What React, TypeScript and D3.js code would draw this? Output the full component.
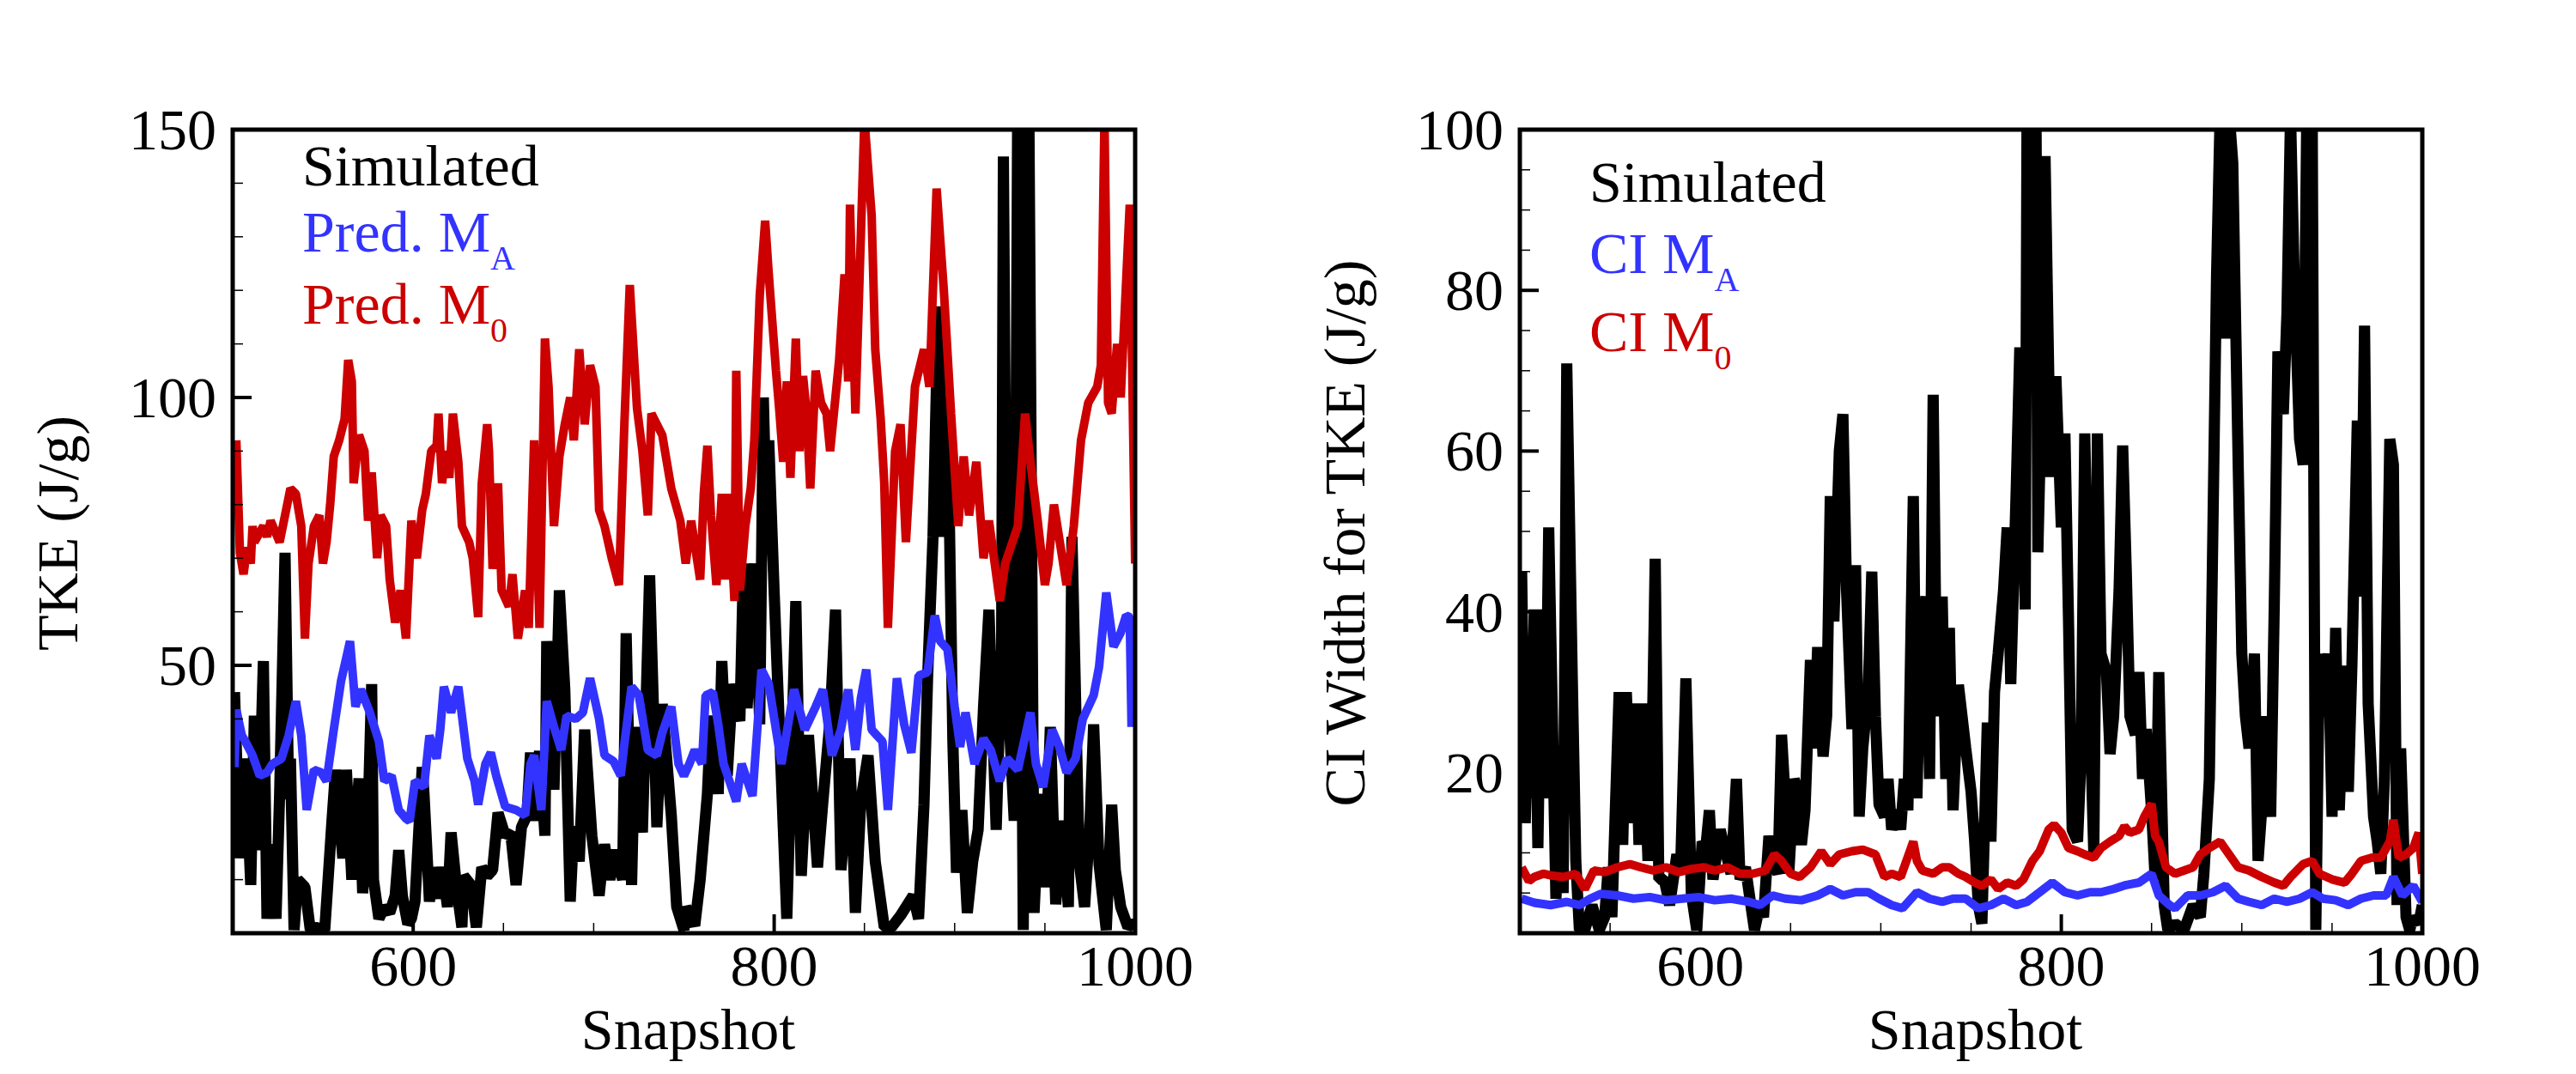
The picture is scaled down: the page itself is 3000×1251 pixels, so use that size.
import React from 'react';
import * as d3 from 'd3';

const W = 3000;
const H = 1251;
const RED = '#cc0000';
const BLUE = '#3333ff';
const FONT = '"Liberation Serif", "Times New Roman", Times, serif';

// x axis (both panels)
const snapshotDomain: [number, number] = [500, 1000];
const snapshotTicks = [600, 800, 1000];
const snapshotMinorStep = 50;

// left panel axis
const tkeTicks = [50, 100, 150];
// right panel axis
const ciTicks = [20, 40, 60, 80, 100];

// ---- left panel: TKE (J/g) ----
const simulatedTke: [number, number][] = [
  [501, 45], [504, 14], [507, 32.6], [510, 9], [512, 40.6], [514, 15.5], [517, 50.8], [519, 2.7], [521, 16.6],
  [524, 2.7], [526, 26], [529, 71], [531, 25], [532, 32.6], [534, 0.6], [536, 10], [540, 8.6], [543, 0.6],
  [546, 1.1], [551, 0.6], [555, 21], [557, 30.5], [561, 14], [563, 30.5], [566, 10], [570, 28.9], [572, 7.5],
  [575, 22], [577, 46.5], [578, 10], [581, 2.7], [584, 4.9], [587, 3.8], [590, 7], [592, 15.5], [594, 7],
  [597, 1.7], [599, 2.7], [601, 5.9], [605, 31], [606, 26], [609, 5.9], [611, 12.3], [613, 6.5], [616, 12.3],
  [619, 4.9], [621, 18.8], [624, 8.6], [627, 1.1], [628, 10.7], [632, 9], [635, 1.1], [638, 12.3], [641, 10.7],
  [644, 11.8], [647, 22.5], [651, 18.2], [654, 18.8], [657, 9], [660, 19.8], [663, 22], [665, 33.7], [667, 21],
  [670, 34], [673, 18.2], [674, 54.5], [678, 26.8], [681, 64], [684, 45.5], [687, 5.9], [689, 20], [692, 13.4],
  [695, 38], [699, 18.2], [703, 7], [706, 16.6], [709, 10], [712, 15.5], [716, 10], [718, 56], [721, 9],
  [723, 38.5], [727, 18.8], [731, 66.8], [735, 19.8], [738, 42.8], [743, 22], [746, 4.9], [750, 0.6],
  [751, 4.9], [756, 1.4], [759, 10], [763, 26], [765, 40.6], [769, 26], [771, 50.8], [774, 29.4], [777, 46.5],
  [781, 39.6], [783, 69], [785, 42], [789, 69], [792, 39], [794, 100], [796, 73], [797, 92], [800, 63.6],
  [807, 2.7], [812, 62], [815, 10.7], [819, 37], [824, 12.3], [827, 24.6], [831, 40], [834, 60.4], [837, 11.8],
  [842, 32.6], [845, 3.8], [848, 24.6], [852, 33.2], [856, 13.4], [861, 1.1], [865, 1.1], [870, 3.3], [873, 4.9],
  [877, 7], [880, 2.7], [883, 24], [885, 47.6], [888, 74], [890, 104], [891, 117], [894, 74], [896, 100],
  [899, 35.8], [901, 11.3], [904, 23], [907, 3.8], [910, 13.4], [913, 19.3], [916, 42.3], [919, 60.4], [923, 19.3],
  [926, 53], [927, 145], [929, 47.6], [933, 21], [935, 160], [938, 0.6], [941, 160], [944, 3.8], [947, 26],
  [950, 8.6], [953, 38.5], [956, 5.4], [959, 21], [963, 4.9], [965, 74], [969, 13.4], [972, 4.9], [975, 21],
  [977, 39], [980, 12.9], [984, 0.6], [987, 24], [989, 11.8], [992, 4.9], [996, 1.1], [998, 1.7], [1000, 1.7],
];

const predMA: [number, number][] = [
  [501, 31], [502, 41.7], [505, 37], [507, 35.8], [511, 33.2], [515, 29.4], [519, 30], [522, 31.6], [527, 32.6],
  [531, 36.9], [535, 43.3], [538, 36.9], [541, 23], [545, 30.5], [549, 30], [552, 28.4], [556, 38], [560, 47],
  [565, 54.5], [568, 42.3], [571, 45.5], [576, 41.2], [581, 35.8], [584, 28.4], [588, 29.4], [592, 23], [596, 21.4],
  [598, 20.9], [601, 28.4], [606, 27.3], [609, 36.9], [613, 32.6], [615, 38], [617, 46], [621, 41.2], [625, 46],
  [630, 32.6], [634, 28.4], [636, 24], [640, 31.6], [643, 33.7], [646, 29.4], [651, 23.6], [657, 23], [662, 22],
  [665, 31.6], [667, 33.2], [671, 23], [674, 43.3], [678, 38.5], [682, 34.2], [685, 40.6], [690, 40], [694, 41.2],
  [698, 47.6], [703, 40], [706, 33.2], [711, 32.1], [715, 29.4], [717, 35.3], [721, 46], [725, 44.4], [730, 34.2],
  [735, 33.2], [738, 37.4], [743, 42.3], [747, 31.6], [750, 29.4], [753, 31.6], [756, 34.2], [760, 31.6],
  [762, 44.4], [766, 45], [769, 39], [772, 31.6], [779, 24.6], [782, 31.6], [788, 25.6], [793, 49.2], [797, 46.5],
  [804, 31.6], [811, 45.5], [817, 38], [823, 42.3], [827, 45.5], [832, 33.2], [837, 38], [841, 45.5], [845, 34.2],
  [848, 43.8], [851, 49.2], [854, 38], [860, 35.8], [863, 23], [868, 47.6], [872, 39], [876, 33.7], [880, 48.1],
  [885, 48.7], [889, 59.3], [892, 54.5], [896, 53], [900, 42.3], [903, 34.8], [906, 41.2], [911, 31.6], [916, 36.3],
  [920, 34.2], [925, 28.4], [929, 32.6], [935, 30.5], [942, 41.2], [945, 31.6], [949, 27.3], [954, 38], [958, 34.8],
  [962, 30], [967, 32.6], [971, 40], [977, 44.4], [980, 49.7], [984, 63.6], [988, 53.5], [992, 56.1], [995, 59.3],
  [997, 59], [998, 38.5],
];

const predM0: [number, number][] = [
  [502, 92], [504, 71], [506, 67], [508, 72], [510, 69], [511, 76], [512, 73], [517, 76], [519, 74], [521, 77],
  [526, 73], [529, 78], [532, 83], [535, 82], [538, 76], [540, 55], [542, 69], [545, 76], [548, 78], [550, 69],
  [552, 73], [554, 80], [556, 89], [559, 92], [562, 96], [564, 107], [566, 103], [567, 84], [570, 93], [573, 90],
  [575, 77], [577, 86], [580, 70], [582, 78], [585, 76], [587, 66], [590, 58], [593, 64], [596, 55], [599, 77],
  [602, 70], [605, 79], [607, 82], [610, 90], [613, 91], [614, 97], [616, 84], [618, 90], [620, 85], [622, 97],
  [625, 88], [627, 76], [631, 73], [633, 70], [636, 59], [638, 84], [641, 95], [642, 90], [644, 68], [647, 84],
  [649, 64], [653, 61], [655, 67], [658, 55], [662, 64], [664, 57], [667, 92], [670, 57], [673, 111], [675, 102],
  [678, 76], [681, 89], [684, 95], [687, 100], [689, 92], [692, 109], [695, 95], [698, 106], [701, 102], [703, 79],
  [706, 76], [710, 70], [714, 65], [717, 95], [720, 121], [724, 98], [727, 90], [730, 78], [732, 97], [738, 93],
  [743, 83], [748, 77], [751, 69], [754, 77], [759, 66], [761, 82], [763, 91], [765, 78], [768, 65], [771, 82],
  [773, 66], [775, 82], [778, 62], [779, 105], [781, 64], [784, 76], [787, 83], [789, 92], [792, 119], [795, 133],
  [797, 123], [801, 105], [803, 97], [805, 88], [807, 103], [809, 85], [812, 111], [814, 90], [816, 104], [818, 97],
  [820, 83], [823, 105], [826, 99], [829, 97], [831, 90], [836, 107], [839, 123], [841, 103], [842, 136], [845, 97],
  [850, 152], [854, 134], [856, 109], [859, 96], [861, 84], [863, 57], [867, 90], [870, 95], [873, 73], [878, 102],
  [883, 109], [886, 102], [890, 139], [894, 120], [898, 97], [902, 76], [905, 89], [908, 78], [912, 88], [916, 70],
  [919, 77], [925, 62], [928, 69], [935, 76], [939, 97], [942, 88], [946, 77], [950, 65], [952, 69], [955, 80],
  [962, 65], [966, 76], [970, 92], [974, 99], [979, 102], [981, 106], [983, 152], [985, 99], [987, 97], [990, 110],
  [992, 100], [997, 136], [1000, 69],
];

// ---- right panel: CI width for TKE (J/g) ----
const simulatedCi: [number, number][] = [
  [501, 45], [503, 13.7], [505, 32.5], [506, 16.8], [508, 40.3], [510, 10.6], [512, 40.3], [514, 16.8], [516, 50.5],
  [520, 4.3], [522, 12.9], [524, 5], [526, 70.9], [529, 32.5], [531, 9], [533, 0.4], [536, 0.4], [540, 3.5],
  [544, 0.4], [547, 2], [549, 8.2], [551, 2], [555, 30], [557, 11], [559, 30], [562, 13.7], [564, 28.6], [566, 11],
  [568, 28.6], [571, 9], [573, 19.2], [575, 46.6], [577, 6.7], [580, 6.7], [583, 3.5], [587, 9.8], [589, 7.4],
  [592, 31.7], [595, 5], [598, 0.4], [601, 11.4], [603, 10.6], [605, 15.3], [607, 6.7], [611, 12.9], [613, 11],
  [617, 7.4], [620, 19.2], [622, 6.7], [625, 8.2], [628, 3.5], [630, 0.4], [633, 3.5], [635, 2], [638, 12.1],
  [640, 9], [643, 7.4], [645, 24.7], [647, 16.8], [649, 7.4], [652, 19.2], [654, 17.6], [656, 11], [658, 15.3],
  [661, 34], [663, 23], [665, 35.6], [668, 22], [670, 27], [672, 54.4], [674, 38.8], [677, 60], [679, 64.6],
  [681, 42.7], [684, 25.4], [686, 45.8], [688, 14.5], [690, 23], [693, 30], [695, 45], [697, 27], [699, 16],
  [702, 14.5], [704, 19.2], [706, 12.9], [709, 15.3], [711, 12.9], [713, 19.2], [715, 15.3], [718, 54.4], [720, 16.8],
  [722, 36.4], [725, 41.9], [727, 19.2], [729, 67], [731, 27], [734, 41.9], [736, 19.2], [738, 38], [740, 15.3],
  [743, 30.9], [745, 27], [747, 23.1], [750, 17.6], [752, 11.4], [754, 3.5], [756, 1.2], [759, 26.2], [761, 11.4],
  [763, 30], [765, 34.8], [768, 42.7], [770, 50.5], [772, 31], [775, 55.2], [777, 72.9], [778, 67.7], [780, 40.3],
  [781, 102], [784, 72.4], [786, 102], [787, 47.4], [789, 67], [791, 96.7], [794, 56.8], [797, 69.3], [800, 50.5],
  [802, 62.2], [804, 38.8], [806, 12.9], [809, 11.4], [811, 22.3], [813, 62.2], [816, 26.2], [818, 9.8], [820, 62.2],
  [822, 34.8], [825, 32.5], [827, 22.3], [829, 27], [832, 42.7], [834, 60.7], [836, 45], [838, 27], [841, 24.7],
  [843, 32.5], [845, 19.2], [847, 25.4], [850, 15.3], [852, 6.7], [854, 32.5], [857, 3.5], [859, 0.4], [863, 1.2],
  [868, 0.4], [873, 3.5], [877, 2], [879, 7.4], [882, 19.2], [884, 50.5], [886, 81.8], [888, 102], [891, 74],
  [893, 102], [895, 95.9], [898, 58.3], [900, 34.8], [902, 27], [904, 23], [907, 34.8], [909, 9], [911, 15.3],
  [913, 27], [916, 14.5], [918, 41], [920, 72.4], [923, 64.6], [925, 77.1], [927, 102], [929, 81.8], [932, 61.5],
  [934, 58.3], [936, 102], [939, 102], [941, 0.4], [943, 34.8], [945, 27], [948, 34.8], [950, 14.5], [952, 38],
  [954, 15.3], [957, 33.3], [959, 17.6], [961, 33.3], [964, 63.8], [966, 41.9], [968, 75.6], [970, 28.6], [973, 14.5],
  [975, 11.4], [977, 7.4], [979, 19.2], [982, 61.5], [984, 58.3], [986, 3.5], [988, 23], [991, 2], [993, 0.4],
  [995, 2], [998, 1.2], [1000, 3.5],
];

const ciMA: [number, number][] = [
  [501, 4.3], [508, 3.8], [517, 3.5], [526, 3.9], [533, 3.5], [539, 4.3], [545, 4.9], [554, 4.7], [563, 4.3],
  [572, 4.5], [581, 4.1], [590, 4.3], [599, 4.5], [608, 4.1], [617, 4.3], [627, 3.9], [633, 3.5], [640, 4.7],
  [647, 4.3], [656, 4.1], [665, 4.7], [672, 5.5], [679, 4.7], [686, 5.1], [693, 5.1], [699, 4.3], [706, 3.5],
  [712, 3.1], [720, 5.1], [727, 4.3], [734, 3.9], [740, 4.3], [747, 4.3], [754, 3.1], [761, 3.5], [768, 4.3],
  [775, 3.5], [781, 3.9], [788, 5.1], [795, 6.3], [802, 5.1], [809, 4.7], [816, 5.1], [822, 5.1], [829, 5.5],
  [836, 6], [843, 6.3], [850, 7.4], [854, 4.7], [860, 3.5], [863, 3.1], [870, 4.7], [877, 4.7], [884, 5.1],
  [891, 5.9], [898, 4.3], [904, 3.9], [911, 3.5], [918, 4.3], [925, 3.9], [932, 4.3], [939, 5.1], [945, 4.3],
  [952, 4.1], [959, 3.5], [966, 4.3], [973, 4.7], [980, 4.7], [984, 7], [989, 4.7], [995, 5.9], [1000, 3.9],
];

const ciM0: [number, number][] = [
  [501, 8.2], [505, 6.5], [508, 7], [513, 7.4], [517, 7.2], [524, 7], [531, 7.4], [536, 5.5], [541, 7.8], [547, 7.6],
  [554, 8.2], [561, 8.6], [567, 8.2], [574, 7.8], [581, 8.2], [588, 7.6], [595, 8], [602, 8.2], [608, 7.8],
  [615, 8.2], [622, 7.4], [629, 7.4], [636, 7.8], [641, 9.8], [645, 9], [650, 7.4], [655, 7], [661, 8.2],
  [667, 10.2], [672, 8.6], [677, 9.8], [684, 10.2], [690, 10.4], [697, 9.8], [702, 7], [706, 7.4], [711, 7],
  [718, 11.4], [720, 9], [723, 7.8], [729, 7.4], [734, 8.2], [738, 8.2], [743, 7.4], [747, 7], [752, 6.3],
  [756, 5.9], [761, 6.7], [765, 5.5], [770, 6.3], [775, 5.9], [779, 6.7], [784, 9], [788, 10.2], [793, 12.9],
  [796, 13.5], [800, 12.5], [804, 10.6], [809, 10.2], [813, 9.8], [818, 9.4], [822, 10.6], [827, 11.4], [832, 12.1],
  [835, 13.3], [838, 12.5], [843, 12.9], [846, 14.5], [850, 16.1], [852, 12.1], [854, 11.4], [858, 8.2], [863, 7.4],
  [868, 7.8], [873, 8.2], [877, 9.8], [882, 10.6], [888, 11.4], [893, 9.8], [898, 8.2], [904, 7.8], [911, 7],
  [918, 6.3], [923, 5.9], [927, 7], [934, 8.6], [939, 9], [943, 7.4], [950, 6.7], [957, 6.3], [961, 7.4], [966, 9],
  [972, 9.4], [977, 9.4], [982, 11.4], [984, 14.1], [987, 9.4], [991, 9.8], [995, 10.6], [998, 12.5], [1000, 7.4],
];

interface Series {
  data: [number, number][];
  color: string;
  width: number;
}

interface LegendItem {
  text: string;
  sub?: string;
  color: string;
  baseline: number;
}

interface PanelProps {
  id: string;
  left: number;
  yMax: number;
  yTicks: number[];
  yMinorStep: number;
  yTitle: string;
  series: Series[];
  legend: LegendItem[];
}

const PLOT_W = 1051;
const TOP = 151;
const BOTTOM = 1087;

function Panel({id, left, yMax, yTicks, yMinorStep, yTitle, series, legend}: PanelProps) {
  const x = d3.scaleLinear().domain(snapshotDomain).range([left, left + PLOT_W]);
  const y = d3.scaleLinear().domain([0, yMax]).range([BOTTOM, TOP]);
  const line = d3
    .line<[number, number]>()
    .x((d) => x(d[0]))
    .y((d) => y(d[1]));

  const xMinor = d3
    .range(snapshotDomain[0] + snapshotMinorStep, snapshotDomain[1], snapshotMinorStep)
    .filter((v) => !snapshotTicks.includes(v));
  const yMinor = d3.range(yMinorStep, yMax, yMinorStep).filter((v) => !yTicks.includes(v));

  return (
    <g fontFamily={FONT}>
      <defs>
        <clipPath id={id}>
          <rect x={left} y={TOP} width={PLOT_W} height={BOTTOM - TOP} />
        </clipPath>
      </defs>

      <g clipPath={`url(#${id})`} fill="none" strokeLinejoin="bevel">
        {series.map((s, i) => (
          <path key={i} d={line(s.data) ?? ''} stroke={s.color} strokeWidth={s.width} />
        ))}
      </g>

      {/* ticks, drawn inward */}
      <g stroke="#000">
        {yTicks.filter((v) => v < yMax).map((v) => (
          <line key={'ym' + v} x1={left} x2={left + 22} y1={y(v)} y2={y(v)} strokeWidth={4} />
        ))}
        {yMinor.map((v) => (
          <line key={'yn' + v} x1={left} x2={left + 12} y1={y(v)} y2={y(v)} strokeWidth={1.5} />
        ))}
        {snapshotTicks.filter((v) => v < snapshotDomain[1]).map((v) => (
          <line key={'xm' + v} x1={x(v)} x2={x(v)} y1={BOTTOM} y2={BOTTOM - 22} strokeWidth={4} />
        ))}
        {xMinor.map((v) => (
          <line key={'xn' + v} x1={x(v)} x2={x(v)} y1={BOTTOM} y2={BOTTOM - 12} strokeWidth={1.5} />
        ))}
      </g>

      <rect x={left} y={TOP} width={PLOT_W} height={BOTTOM - TOP} fill="none" stroke="#000" strokeWidth={5} />

      <g fontSize={68} fill="#000">
        {yTicks.map((v) => (
          <text key={'yl' + v} x={left - 19} y={y(v) + 23} textAnchor="end">
            {v}
          </text>
        ))}
        {snapshotTicks.map((v) => (
          <text key={'xl' + v} x={x(v)} y={1148} textAnchor="middle">
            {v}
          </text>
        ))}
        <text x={left + PLOT_W / 2 + 5} y={1222} textAnchor="middle">
          Snapshot
        </text>
        <text transform={`translate(${left - 181},${(TOP + BOTTOM) / 2 + 2}) rotate(-90)`} textAnchor="middle">
          {yTitle}
        </text>
      </g>

      <g fontSize={68}>
        {legend.map((l) => (
          <text key={l.text + (l.sub ?? '')} x={left + 81} y={l.baseline} fill={l.color}>
            <tspan>{l.text}</tspan>
            {l.sub && (
              <tspan fontSize={40} dy={21}>
                {l.sub}
              </tspan>
            )}
          </text>
        ))}
      </g>
    </g>
  );
}

export default function App() {
  return (
    <svg
      width={W}
      height={H}
      viewBox={`0 0 ${W} ${H}`}
      style={{position: 'absolute', left: 0, top: 0, background: '#fff'}}
    >
      <rect width={W} height={H} fill="#fff" />
      <Panel
        id="clip-tke"
        left={271}
        yMax={150}
        yTicks={tkeTicks}
        yMinorStep={10}
        yTitle="TKE (J/g)"
        series={[
          {data: simulatedTke, color: '#000', width: 13},
          {data: predM0, color: RED, width: 10},
          {data: predMA, color: BLUE, width: 10},
        ]}
        legend={[
          {text: 'Simulated', color: '#000', baseline: 216},
          {text: 'Pred. M', sub: 'A', color: BLUE, baseline: 293},
          {text: 'Pred. M', sub: '0', color: RED, baseline: 377},
        ]}
      />
      <Panel
        id="clip-ci"
        left={1770}
        yMax={100}
        yTicks={ciTicks}
        yMinorStep={5}
        yTitle="CI Width for TKE (J/g)"
        series={[
          {data: simulatedCi, color: '#000', width: 13},
          {data: ciM0, color: RED, width: 10},
          {data: ciMA, color: BLUE, width: 10},
        ]}
        legend={[
          {text: 'Simulated', color: '#000', baseline: 235},
          {text: 'CI M', sub: 'A', color: BLUE, baseline: 318},
          {text: 'CI M', sub: '0', color: RED, baseline: 409},
        ]}
      />
    </svg>
  );
}
